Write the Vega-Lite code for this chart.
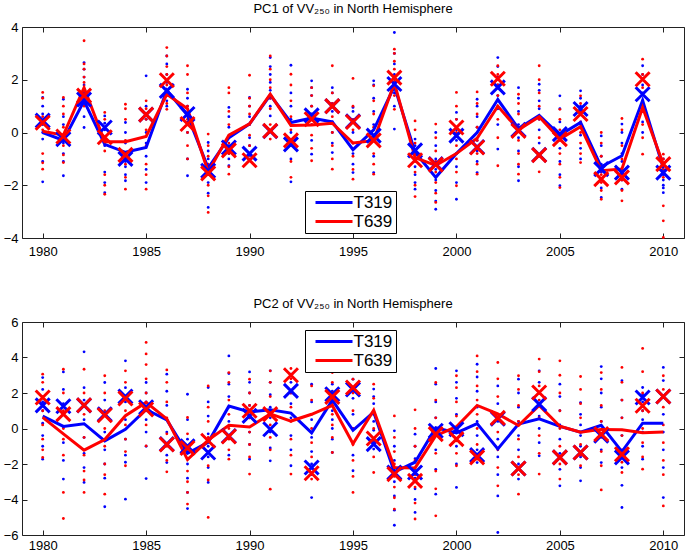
{
"$schema": "https://vega.github.io/schema/vega-lite/v6.json",
"padding": {"left": 2, "top": 2, "right": 1, "bottom": 0},
"config": {
  "font": "Liberation Sans",
  "view": {"stroke": "#222222", "strokeWidth": 1},
  "axis": {"grid": false, "domain": false, "tickColor": "#222222", "labelColor": "#000000", "labelFontSize": 13, "tickSize": -5, "labelPadding": 9},
  "axisX": {"labelPadding": 12},
  "title": {"fontSize": 13, "fontWeight": "normal", "color": "#000000", "offset": 5},
  "legend": {"orient": "none", "title": null, "symbolType": "M-9.25,0L9.25,0", "symbolSize": 16, "symbolStrokeWidth": 3, "symbolOffset": 17.5, "labelOffset": 11, "labelFontSize": 17, "labelColor": "#000000", "strokeColor": "#000000", "fillColor": "#ffffff", "padding": 3, "rowPadding": 1},
  "concat": {"spacing": 38}
},
"resolve": {"legend": {"color": "independent"}},
"datasets": {
"lines": [
{"p":1,"y":1980,"m":"T319","l":0.0,"x":0.45},{"p":1,"y":1981,"m":"T319","l":-0.3,"x":-0.25},{"p":1,"y":1982,"m":"T319","l":1.2,"x":1.25},{"p":1,"y":1983,"m":"T319","l":-0.45,"x":0.19},{"p":1,"y":1984,"m":"T319","l":-0.75,"x":-1.0},{"p":1,"y":1985,"m":"T319","l":-0.57,"x":0.68},{"p":1,"y":1986,"m":"T319","l":1.6,"x":1.58},{"p":1,"y":1987,"m":"T319","l":0.65,"x":0.7},{"p":1,"y":1988,"m":"T319","l":-1.35,"x":-1.45},{"p":1,"y":1989,"m":"T319","l":-0.2,"x":-0.57},{"p":1,"y":1990,"m":"T319","l":0.33,"x":-0.8},{"p":1,"y":1991,"m":"T319","l":1.42,"x":0.05},{"p":1,"y":1992,"m":"T319","l":0.38,"x":-0.45},{"p":1,"y":1993,"m":"T319","l":0.55,"x":0.65},{"p":1,"y":1994,"m":"T319","l":0.4,"x":1.0},{"p":1,"y":1995,"m":"T319","l":-0.65,"x":0.42},{"p":1,"y":1996,"m":"T319","l":0.1,"x":-0.12},{"p":1,"y":1997,"m":"T319","l":1.75,"x":1.84},{"p":1,"y":1998,"m":"T319","l":-0.75,"x":-0.68},{"p":1,"y":1999,"m":"T319","l":-1.7,"x":-1.2},{"p":1,"y":2000,"m":"T319","l":-0.8,"x":-0.12},{"p":1,"y":2001,"m":"T319","l":0.0,"x":-0.55},{"p":1,"y":2002,"m":"T319","l":1.25,"x":1.71},{"p":1,"y":2003,"m":"T319","l":0.15,"x":0.1},{"p":1,"y":2004,"m":"T319","l":0.65,"x":-0.85},{"p":1,"y":2005,"m":"T319","l":-0.1,"x":-0.06},{"p":1,"y":2006,"m":"T319","l":0.38,"x":0.89},{"p":1,"y":2007,"m":"T319","l":-1.3,"x":-1.39},{"p":1,"y":2008,"m":"T319","l":-0.88,"x":-1.52},{"p":1,"y":2009,"m":"T319","l":1.22,"x":1.45},{"p":1,"y":2010,"m":"T319","l":-1.35,"x":-1.52},
{"p":1,"y":1980,"m":"T639","l":0.05,"x":0.37},{"p":1,"y":1981,"m":"T639","l":-0.1,"x":-0.15},{"p":1,"y":1982,"m":"T639","l":1.7,"x":1.4},{"p":1,"y":1983,"m":"T639","l":-0.35,"x":-0.18},{"p":1,"y":1984,"m":"T639","l":-0.35,"x":-0.85},{"p":1,"y":1985,"m":"T639","l":-0.15,"x":0.68},{"p":1,"y":1986,"m":"T639","l":1.45,"x":1.98},{"p":1,"y":1987,"m":"T639","l":0.9,"x":0.32},{"p":1,"y":1988,"m":"T639","l":-1.5,"x":-1.55},{"p":1,"y":1989,"m":"T639","l":-0.1,"x":-0.68},{"p":1,"y":1990,"m":"T639","l":0.33,"x":-1.05},{"p":1,"y":1991,"m":"T639","l":1.45,"x":0.06},{"p":1,"y":1992,"m":"T639","l":0.27,"x":-0.3},{"p":1,"y":1993,"m":"T639","l":0.28,"x":0.5},{"p":1,"y":1994,"m":"T639","l":0.35,"x":1.0},{"p":1,"y":1995,"m":"T639","l":-0.4,"x":0.4},{"p":1,"y":1996,"m":"T639","l":-0.31,"x":-0.3},{"p":1,"y":1997,"m":"T639","l":1.88,"x":2.08},{"p":1,"y":1998,"m":"T639","l":-0.95,"x":-1.05},{"p":1,"y":1999,"m":"T639","l":-1.25,"x":-1.22},{"p":1,"y":2000,"m":"T639","l":-0.8,"x":0.19},{"p":1,"y":2001,"m":"T639","l":-0.22,"x":-0.57},{"p":1,"y":2002,"m":"T639","l":1.0,"x":2.04},{"p":1,"y":2003,"m":"T639","l":0.1,"x":0.06},{"p":1,"y":2004,"m":"T639","l":0.6,"x":-0.86},{"p":1,"y":2005,"m":"T639","l":-0.25,"x":-0.25},{"p":1,"y":2006,"m":"T639","l":0.22,"x":0.7},{"p":1,"y":2007,"m":"T639","l":-1.45,"x":-1.77},{"p":1,"y":2008,"m":"T639","l":-1.38,"x":-1.7},{"p":1,"y":2009,"m":"T639","l":0.95,"x":2.02},{"p":1,"y":2010,"m":"T639","l":-1.2,"x":-1.2},
{"p":2,"y":1980,"m":"T319","l":0.7,"x":1.3},{"p":2,"y":1981,"m":"T319","l":0.12,"x":1.25},{"p":2,"y":1982,"m":"T319","l":0.27,"x":1.3},{"p":2,"y":1983,"m":"T319","l":-0.7,"x":0.8},{"p":2,"y":1984,"m":"T319","l":-0.05,"x":1.8},{"p":2,"y":1985,"m":"T319","l":1.07,"x":1.2},{"p":2,"y":1986,"m":"T319","l":0.48,"x":-0.88},{"p":2,"y":1987,"m":"T319","l":-1.4,"x":-1.0},{"p":2,"y":1988,"m":"T319","l":-0.78,"x":-1.35},{"p":2,"y":1989,"m":"T319","l":1.26,"x":-0.42},{"p":2,"y":1990,"m":"T319","l":0.93,"x":0.71},{"p":2,"y":1991,"m":"T319","l":1.06,"x":-0.04},{"p":2,"y":1992,"m":"T319","l":0.87,"x":2.12},{"p":2,"y":1993,"m":"T319","l":-0.25,"x":-2.2},{"p":2,"y":1994,"m":"T319","l":1.6,"x":1.93},{"p":2,"y":1995,"m":"T319","l":-0.1,"x":2.2},{"p":2,"y":1996,"m":"T319","l":0.92,"x":-0.88},{"p":2,"y":1997,"m":"T319","l":-2.45,"x":-2.48},{"p":2,"y":1998,"m":"T319","l":-1.9,"x":-2.48},{"p":2,"y":1999,"m":"T319","l":0.05,"x":-0.13},{"p":2,"y":2000,"m":"T319","l":-0.25,"x":-0.04},{"p":2,"y":2001,"m":"T319","l":0.28,"x":-1.5},{"p":2,"y":2002,"m":"T319","l":-1.15,"x":0.55},{"p":2,"y":2003,"m":"T319","l":0.25,"x":-2.25},{"p":2,"y":2004,"m":"T319","l":0.54,"x":1.37},{"p":2,"y":2005,"m":"T319","l":0.12,"x":-1.63},{"p":2,"y":2006,"m":"T319","l":-0.21,"x":-1.35},{"p":2,"y":2007,"m":"T319","l":0.18,"x":-0.41},{"p":2,"y":2008,"m":"T319","l":-1.3,"x":-1.63},{"p":2,"y":2009,"m":"T319","l":0.3,"x":1.75},{"p":2,"y":2010,"m":"T319","l":0.3,"x":1.8},
{"p":2,"y":1980,"m":"T639","l":0.63,"x":1.75},{"p":2,"y":1981,"m":"T639","l":-0.3,"x":0.81},{"p":2,"y":1982,"m":"T639","l":-1.22,"x":1.31},{"p":2,"y":1983,"m":"T639","l":-0.62,"x":0.75},{"p":2,"y":1984,"m":"T639","l":0.72,"x":1.69},{"p":2,"y":1985,"m":"T639","l":1.47,"x":1.07},{"p":2,"y":1986,"m":"T639","l":0.54,"x":-0.9},{"p":2,"y":1987,"m":"T639","l":-1.75,"x":-1.1},{"p":2,"y":1988,"m":"T639","l":-0.65,"x":-0.69},{"p":2,"y":1989,"m":"T639","l":0.18,"x":-0.45},{"p":2,"y":1990,"m":"T639","l":0.08,"x":1.0},{"p":2,"y":1991,"m":"T639","l":0.82,"x":0.81},{"p":2,"y":1992,"m":"T639","l":0.42,"x":3.0},{"p":2,"y":1993,"m":"T639","l":0.8,"x":-2.52},{"p":2,"y":1994,"m":"T639","l":1.3,"x":1.78},{"p":2,"y":1995,"m":"T639","l":-0.86,"x":2.31},{"p":2,"y":1996,"m":"T639","l":1.03,"x":-0.56},{"p":2,"y":1997,"m":"T639","l":-2.2,"x":-2.57},{"p":2,"y":1998,"m":"T639","l":-2.22,"x":-2.95},{"p":2,"y":1999,"m":"T639","l":-0.4,"x":-0.32},{"p":2,"y":2000,"m":"T639","l":0.1,"x":-0.6},{"p":2,"y":2001,"m":"T639","l":1.3,"x":-1.63},{"p":2,"y":2002,"m":"T639","l":0.82,"x":0.6},{"p":2,"y":2003,"m":"T639","l":0.17,"x":-2.25},{"p":2,"y":2004,"m":"T639","l":1.3,"x":2.03},{"p":2,"y":2005,"m":"T639","l":0.13,"x":-1.63},{"p":2,"y":2006,"m":"T639","l":-0.21,"x":-1.35},{"p":2,"y":2007,"m":"T639","l":-0.05,"x":-0.32},{"p":2,"y":2008,"m":"T639","l":-0.07,"x":-1.45},{"p":2,"y":2009,"m":"T639","l":-0.24,"x":1.28},{"p":2,"y":2010,"m":"T639","l":-0.2,"x":1.8}
],
"dots": [
{"p":1,"y":1980,"m":"T319","v":1.33},{"p":1,"y":1980,"m":"T319","v":1.0},{"p":1,"y":1980,"m":"T319","v":0.7},{"p":1,"y":1980,"m":"T319","v":0.3},{"p":1,"y":1980,"m":"T319","v":0.0},{"p":1,"y":1980,"m":"T319","v":-0.25},{"p":1,"y":1980,"m":"T319","v":-1.1},{"p":1,"y":1980,"m":"T319","v":-1.87},
{"p":1,"y":1980,"m":"T639","v":1.52},{"p":1,"y":1980,"m":"T639","v":1.3},{"p":1,"y":1980,"m":"T639","v":0.6},{"p":1,"y":1980,"m":"T639","v":0.35},{"p":1,"y":1980,"m":"T639","v":0.1},{"p":1,"y":1980,"m":"T639","v":-0.8},{"p":1,"y":1980,"m":"T639","v":-1.15},{"p":1,"y":1980,"m":"T639","v":-1.39},
{"p":1,"y":1981,"m":"T319","v":1.26},{"p":1,"y":1981,"m":"T319","v":0.6},{"p":1,"y":1981,"m":"T319","v":0.3},{"p":1,"y":1981,"m":"T319","v":-0.1},{"p":1,"y":1981,"m":"T319","v":-0.4},{"p":1,"y":1981,"m":"T319","v":-0.8},{"p":1,"y":1981,"m":"T319","v":-1.1},{"p":1,"y":1981,"m":"T319","v":-1.64},
{"p":1,"y":1981,"m":"T639","v":1.33},{"p":1,"y":1981,"m":"T639","v":1.0},{"p":1,"y":1981,"m":"T639","v":0.7},{"p":1,"y":1981,"m":"T639","v":0.2},{"p":1,"y":1981,"m":"T639","v":-0.2},{"p":1,"y":1981,"m":"T639","v":-0.5},{"p":1,"y":1981,"m":"T639","v":-0.85},{"p":1,"y":1981,"m":"T639","v":-1.14},
{"p":1,"y":1982,"m":"T319","v":2.65},{"p":1,"y":1982,"m":"T319","v":2.4},{"p":1,"y":1982,"m":"T319","v":2.1},{"p":1,"y":1982,"m":"T319","v":1.8},{"p":1,"y":1982,"m":"T319","v":1.5},{"p":1,"y":1982,"m":"T319","v":1.1},{"p":1,"y":1982,"m":"T319","v":0.6},{"p":1,"y":1982,"m":"T319","v":0.19},
{"p":1,"y":1982,"m":"T639","v":3.48},{"p":1,"y":1982,"m":"T639","v":2.6},{"p":1,"y":1982,"m":"T639","v":2.4},{"p":1,"y":1982,"m":"T639","v":2.1},{"p":1,"y":1982,"m":"T639","v":1.9},{"p":1,"y":1982,"m":"T639","v":1.6},{"p":1,"y":1982,"m":"T639","v":1.3},{"p":1,"y":1982,"m":"T639","v":1.0},
{"p":1,"y":1983,"m":"T319","v":0.63},{"p":1,"y":1983,"m":"T319","v":0.35},{"p":1,"y":1983,"m":"T319","v":0.1},{"p":1,"y":1983,"m":"T319","v":-0.2},{"p":1,"y":1983,"m":"T319","v":-0.5},{"p":1,"y":1983,"m":"T319","v":-1.5},{"p":1,"y":1983,"m":"T319","v":-1.9},{"p":1,"y":1983,"m":"T319","v":-2.28},
{"p":1,"y":1983,"m":"T639","v":0.76},{"p":1,"y":1983,"m":"T639","v":0.5},{"p":1,"y":1983,"m":"T639","v":0.2},{"p":1,"y":1983,"m":"T639","v":-0.3},{"p":1,"y":1983,"m":"T639","v":-0.7},{"p":1,"y":1983,"m":"T639","v":-1.6},{"p":1,"y":1983,"m":"T639","v":-2.0},{"p":1,"y":1983,"m":"T639","v":-2.34},
{"p":1,"y":1984,"m":"T319","v":0.38},{"p":1,"y":1984,"m":"T319","v":0.0},{"p":1,"y":1984,"m":"T319","v":-0.4},{"p":1,"y":1984,"m":"T319","v":-0.8},{"p":1,"y":1984,"m":"T319","v":-1.1},{"p":1,"y":1984,"m":"T319","v":-1.3},{"p":1,"y":1984,"m":"T319","v":-1.6},{"p":1,"y":1984,"m":"T319","v":-1.83},
{"p":1,"y":1984,"m":"T639","v":1.07},{"p":1,"y":1984,"m":"T639","v":0.9},{"p":1,"y":1984,"m":"T639","v":0.5},{"p":1,"y":1984,"m":"T639","v":-0.3},{"p":1,"y":1984,"m":"T639","v":-0.8},{"p":1,"y":1984,"m":"T639","v":-1.2},{"p":1,"y":1984,"m":"T639","v":-1.7},{"p":1,"y":1984,"m":"T639","v":-2.15},
{"p":1,"y":1985,"m":"T319","v":2.15},{"p":1,"y":1985,"m":"T319","v":1.0},{"p":1,"y":1985,"m":"T319","v":0.5},{"p":1,"y":1985,"m":"T319","v":0.0},{"p":1,"y":1985,"m":"T319","v":-0.4},{"p":1,"y":1985,"m":"T319","v":-0.9},{"p":1,"y":1985,"m":"T319","v":-1.4},{"p":1,"y":1985,"m":"T319","v":-1.9},
{"p":1,"y":1985,"m":"T639","v":1.2},{"p":1,"y":1985,"m":"T639","v":0.9},{"p":1,"y":1985,"m":"T639","v":0.5},{"p":1,"y":1985,"m":"T639","v":0.1},{"p":1,"y":1985,"m":"T639","v":-0.5},{"p":1,"y":1985,"m":"T639","v":-1.2},{"p":1,"y":1985,"m":"T639","v":-1.6},{"p":1,"y":1985,"m":"T639","v":-2.15},
{"p":1,"y":1986,"m":"T319","v":2.9},{"p":1,"y":1986,"m":"T319","v":2.6},{"p":1,"y":1986,"m":"T319","v":2.2},{"p":1,"y":1986,"m":"T319","v":1.9},{"p":1,"y":1986,"m":"T319","v":1.6},{"p":1,"y":1986,"m":"T319","v":1.4},{"p":1,"y":1986,"m":"T319","v":1.2},{"p":1,"y":1986,"m":"T319","v":1.0},
{"p":1,"y":1986,"m":"T639","v":3.22},{"p":1,"y":1986,"m":"T639","v":2.9},{"p":1,"y":1986,"m":"T639","v":2.5},{"p":1,"y":1986,"m":"T639","v":2.2},{"p":1,"y":1986,"m":"T639","v":1.8},{"p":1,"y":1986,"m":"T639","v":1.5},{"p":1,"y":1986,"m":"T639","v":1.1},{"p":1,"y":1986,"m":"T639","v":0.88},
{"p":1,"y":1987,"m":"T319","v":1.64},{"p":1,"y":1987,"m":"T319","v":1.3},{"p":1,"y":1987,"m":"T319","v":1.0},{"p":1,"y":1987,"m":"T319","v":0.7},{"p":1,"y":1987,"m":"T319","v":0.4},{"p":1,"y":1987,"m":"T319","v":0.0},{"p":1,"y":1987,"m":"T319","v":-1.0},{"p":1,"y":1987,"m":"T319","v":-1.64},
{"p":1,"y":1987,"m":"T639","v":2.53},{"p":1,"y":1987,"m":"T639","v":2.2},{"p":1,"y":1987,"m":"T639","v":1.5},{"p":1,"y":1987,"m":"T639","v":1.0},{"p":1,"y":1987,"m":"T639","v":0.5},{"p":1,"y":1987,"m":"T639","v":0.0},{"p":1,"y":1987,"m":"T639","v":-0.5},{"p":1,"y":1987,"m":"T639","v":-1.0},
{"p":1,"y":1988,"m":"T319","v":-0.38},{"p":1,"y":1988,"m":"T319","v":-0.7},{"p":1,"y":1988,"m":"T319","v":-1.0},{"p":1,"y":1988,"m":"T319","v":-1.3},{"p":1,"y":1988,"m":"T319","v":-1.6},{"p":1,"y":1988,"m":"T319","v":-1.9},{"p":1,"y":1988,"m":"T319","v":-2.3},{"p":1,"y":1988,"m":"T319","v":-2.84},
{"p":1,"y":1988,"m":"T639","v":-0.06},{"p":1,"y":1988,"m":"T639","v":-0.5},{"p":1,"y":1988,"m":"T639","v":-0.9},{"p":1,"y":1988,"m":"T639","v":-1.2},{"p":1,"y":1988,"m":"T639","v":-1.6},{"p":1,"y":1988,"m":"T639","v":-2.0},{"p":1,"y":1988,"m":"T639","v":-2.4},{"p":1,"y":1988,"m":"T639","v":-3.03},
{"p":1,"y":1989,"m":"T319","v":0.95},{"p":1,"y":1989,"m":"T319","v":0.6},{"p":1,"y":1989,"m":"T319","v":0.2},{"p":1,"y":1989,"m":"T319","v":-0.2},{"p":1,"y":1989,"m":"T319","v":-0.5},{"p":1,"y":1989,"m":"T319","v":-0.8},{"p":1,"y":1989,"m":"T319","v":-1.0},{"p":1,"y":1989,"m":"T319","v":-1.26},
{"p":1,"y":1989,"m":"T639","v":1.7},{"p":1,"y":1989,"m":"T639","v":1.5},{"p":1,"y":1989,"m":"T639","v":0.8},{"p":1,"y":1989,"m":"T639","v":0.3},{"p":1,"y":1989,"m":"T639","v":-0.4},{"p":1,"y":1989,"m":"T639","v":-0.8},{"p":1,"y":1989,"m":"T639","v":-1.3},{"p":1,"y":1989,"m":"T639","v":-1.58},
{"p":1,"y":1990,"m":"T319","v":1.33},{"p":1,"y":1990,"m":"T319","v":1.0},{"p":1,"y":1990,"m":"T319","v":0.6},{"p":1,"y":1990,"m":"T319","v":0.3},{"p":1,"y":1990,"m":"T319","v":-0.2},{"p":1,"y":1990,"m":"T319","v":-0.5},{"p":1,"y":1990,"m":"T319","v":-0.8},{"p":1,"y":1990,"m":"T319","v":-1.0},
{"p":1,"y":1990,"m":"T639","v":2.17},{"p":1,"y":1990,"m":"T639","v":1.3},{"p":1,"y":1990,"m":"T639","v":1.0},{"p":1,"y":1990,"m":"T639","v":0.7},{"p":1,"y":1990,"m":"T639","v":0.3},{"p":1,"y":1990,"m":"T639","v":-0.1},{"p":1,"y":1990,"m":"T639","v":-0.5},{"p":1,"y":1990,"m":"T639","v":-0.88},
{"p":1,"y":1991,"m":"T319","v":2.84},{"p":1,"y":1991,"m":"T319","v":2.5},{"p":1,"y":1991,"m":"T319","v":2.2},{"p":1,"y":1991,"m":"T319","v":1.9},{"p":1,"y":1991,"m":"T319","v":1.6},{"p":1,"y":1991,"m":"T319","v":1.3},{"p":1,"y":1991,"m":"T319","v":1.0},{"p":1,"y":1991,"m":"T319","v":0.63},
{"p":1,"y":1991,"m":"T639","v":2.9},{"p":1,"y":1991,"m":"T639","v":2.4},{"p":1,"y":1991,"m":"T639","v":2.0},{"p":1,"y":1991,"m":"T639","v":1.7},{"p":1,"y":1991,"m":"T639","v":1.3},{"p":1,"y":1991,"m":"T639","v":0.9},{"p":1,"y":1991,"m":"T639","v":0.3},{"p":1,"y":1991,"m":"T639","v":-0.25},
{"p":1,"y":1992,"m":"T319","v":2.55},{"p":1,"y":1992,"m":"T319","v":1.5},{"p":1,"y":1992,"m":"T319","v":1.0},{"p":1,"y":1992,"m":"T319","v":0.5},{"p":1,"y":1992,"m":"T319","v":0.0},{"p":1,"y":1992,"m":"T319","v":-0.5},{"p":1,"y":1992,"m":"T319","v":-1.0},{"p":1,"y":1992,"m":"T319","v":-1.87},
{"p":1,"y":1992,"m":"T639","v":2.21},{"p":1,"y":1992,"m":"T639","v":1.8},{"p":1,"y":1992,"m":"T639","v":1.2},{"p":1,"y":1992,"m":"T639","v":0.6},{"p":1,"y":1992,"m":"T639","v":0.1},{"p":1,"y":1992,"m":"T639","v":-0.4},{"p":1,"y":1992,"m":"T639","v":-1.1},{"p":1,"y":1992,"m":"T639","v":-1.7},
{"p":1,"y":1993,"m":"T319","v":1.96},{"p":1,"y":1993,"m":"T319","v":1.7},{"p":1,"y":1993,"m":"T319","v":1.4},{"p":1,"y":1993,"m":"T319","v":1.0},{"p":1,"y":1993,"m":"T319","v":0.7},{"p":1,"y":1993,"m":"T319","v":0.3},{"p":1,"y":1993,"m":"T319","v":-0.3},{"p":1,"y":1993,"m":"T319","v":-0.82},
{"p":1,"y":1993,"m":"T639","v":1.7},{"p":1,"y":1993,"m":"T639","v":1.4},{"p":1,"y":1993,"m":"T639","v":1.0},{"p":1,"y":1993,"m":"T639","v":0.6},{"p":1,"y":1993,"m":"T639","v":0.3},{"p":1,"y":1993,"m":"T639","v":-0.1},{"p":1,"y":1993,"m":"T639","v":-0.6},{"p":1,"y":1993,"m":"T639","v":-1.07},
{"p":1,"y":1994,"m":"T319","v":1.7},{"p":1,"y":1994,"m":"T319","v":1.5},{"p":1,"y":1994,"m":"T319","v":1.1},{"p":1,"y":1994,"m":"T319","v":0.8},{"p":1,"y":1994,"m":"T319","v":0.4},{"p":1,"y":1994,"m":"T319","v":0.0},{"p":1,"y":1994,"m":"T319","v":-0.4},{"p":1,"y":1994,"m":"T319","v":-0.76},
{"p":1,"y":1994,"m":"T639","v":2.53},{"p":1,"y":1994,"m":"T639","v":1.5},{"p":1,"y":1994,"m":"T639","v":1.1},{"p":1,"y":1994,"m":"T639","v":0.6},{"p":1,"y":1994,"m":"T639","v":0.0},{"p":1,"y":1994,"m":"T639","v":-0.5},{"p":1,"y":1994,"m":"T639","v":-1.0},{"p":1,"y":1994,"m":"T639","v":-1.39},
{"p":1,"y":1995,"m":"T319","v":0.95},{"p":1,"y":1995,"m":"T319","v":0.8},{"p":1,"y":1995,"m":"T319","v":0.4},{"p":1,"y":1995,"m":"T319","v":0.0},{"p":1,"y":1995,"m":"T319","v":-0.4},{"p":1,"y":1995,"m":"T319","v":-0.8},{"p":1,"y":1995,"m":"T319","v":-1.2},{"p":1,"y":1995,"m":"T319","v":-1.52},
{"p":1,"y":1995,"m":"T639","v":2.05},{"p":1,"y":1995,"m":"T639","v":1.0},{"p":1,"y":1995,"m":"T639","v":0.5},{"p":1,"y":1995,"m":"T639","v":0.1},{"p":1,"y":1995,"m":"T639","v":-0.4},{"p":1,"y":1995,"m":"T639","v":-0.9},{"p":1,"y":1995,"m":"T639","v":-1.4},{"p":1,"y":1995,"m":"T639","v":-1.77},
{"p":1,"y":1996,"m":"T319","v":1.96},{"p":1,"y":1996,"m":"T319","v":1.8},{"p":1,"y":1996,"m":"T319","v":1.3},{"p":1,"y":1996,"m":"T319","v":0.8},{"p":1,"y":1996,"m":"T319","v":0.3},{"p":1,"y":1996,"m":"T319","v":-0.2},{"p":1,"y":1996,"m":"T319","v":-0.9},{"p":1,"y":1996,"m":"T319","v":-1.52},
{"p":1,"y":1996,"m":"T639","v":1.77},{"p":1,"y":1996,"m":"T639","v":1.2},{"p":1,"y":1996,"m":"T639","v":0.7},{"p":1,"y":1996,"m":"T639","v":0.2},{"p":1,"y":1996,"m":"T639","v":-0.3},{"p":1,"y":1996,"m":"T639","v":-0.8},{"p":1,"y":1996,"m":"T639","v":-1.2},{"p":1,"y":1996,"m":"T639","v":-1.58},
{"p":1,"y":1997,"m":"T319","v":3.79},{"p":1,"y":1997,"m":"T319","v":3.0},{"p":1,"y":1997,"m":"T319","v":2.6},{"p":1,"y":1997,"m":"T319","v":2.2},{"p":1,"y":1997,"m":"T319","v":1.9},{"p":1,"y":1997,"m":"T319","v":1.5},{"p":1,"y":1997,"m":"T319","v":1.0},{"p":1,"y":1997,"m":"T319","v":0.13},
{"p":1,"y":1997,"m":"T639","v":3.16},{"p":1,"y":1997,"m":"T639","v":3.0},{"p":1,"y":1997,"m":"T639","v":2.7},{"p":1,"y":1997,"m":"T639","v":2.4},{"p":1,"y":1997,"m":"T639","v":2.1},{"p":1,"y":1997,"m":"T639","v":1.8},{"p":1,"y":1997,"m":"T639","v":1.4},{"p":1,"y":1997,"m":"T639","v":0.88},
{"p":1,"y":1998,"m":"T319","v":-0.25},{"p":1,"y":1998,"m":"T319","v":-0.5},{"p":1,"y":1998,"m":"T319","v":-0.8},{"p":1,"y":1998,"m":"T319","v":-1.0},{"p":1,"y":1998,"m":"T319","v":-1.3},{"p":1,"y":1998,"m":"T319","v":-1.6},{"p":1,"y":1998,"m":"T319","v":-1.9},{"p":1,"y":1998,"m":"T319","v":-2.15},
{"p":1,"y":1998,"m":"T639","v":0.44},{"p":1,"y":1998,"m":"T639","v":0.1},{"p":1,"y":1998,"m":"T639","v":-0.4},{"p":1,"y":1998,"m":"T639","v":-0.8},{"p":1,"y":1998,"m":"T639","v":-1.1},{"p":1,"y":1998,"m":"T639","v":-1.5},{"p":1,"y":1998,"m":"T639","v":-2.0},{"p":1,"y":1998,"m":"T639","v":-2.43},
{"p":1,"y":1999,"m":"T319","v":0.0},{"p":1,"y":1999,"m":"T319","v":-0.5},{"p":1,"y":1999,"m":"T319","v":-1.0},{"p":1,"y":1999,"m":"T319","v":-1.4},{"p":1,"y":1999,"m":"T319","v":-1.8},{"p":1,"y":1999,"m":"T319","v":-2.2},{"p":1,"y":1999,"m":"T319","v":-2.6},{"p":1,"y":1999,"m":"T319","v":-2.91},
{"p":1,"y":1999,"m":"T639","v":0.32},{"p":1,"y":1999,"m":"T639","v":-0.2},{"p":1,"y":1999,"m":"T639","v":-0.7},{"p":1,"y":1999,"m":"T639","v":-1.1},{"p":1,"y":1999,"m":"T639","v":-1.5},{"p":1,"y":1999,"m":"T639","v":-1.9},{"p":1,"y":1999,"m":"T639","v":-2.3},{"p":1,"y":1999,"m":"T639","v":-2.65},
{"p":1,"y":2000,"m":"T319","v":0.76},{"p":1,"y":2000,"m":"T319","v":0.5},{"p":1,"y":2000,"m":"T319","v":0.1},{"p":1,"y":2000,"m":"T319","v":-0.3},{"p":1,"y":2000,"m":"T319","v":-0.8},{"p":1,"y":2000,"m":"T319","v":-1.3},{"p":1,"y":2000,"m":"T319","v":-1.9},{"p":1,"y":2000,"m":"T319","v":-2.53},
{"p":1,"y":2000,"m":"T639","v":1.52},{"p":1,"y":2000,"m":"T639","v":1.0},{"p":1,"y":2000,"m":"T639","v":0.5},{"p":1,"y":2000,"m":"T639","v":0.0},{"p":1,"y":2000,"m":"T639","v":-0.5},{"p":1,"y":2000,"m":"T639","v":-1.0},{"p":1,"y":2000,"m":"T639","v":-1.5},{"p":1,"y":2000,"m":"T639","v":-2.02},
{"p":1,"y":2001,"m":"T319","v":1.26},{"p":1,"y":2001,"m":"T319","v":1.0},{"p":1,"y":2001,"m":"T319","v":0.6},{"p":1,"y":2001,"m":"T319","v":0.2},{"p":1,"y":2001,"m":"T319","v":-0.3},{"p":1,"y":2001,"m":"T319","v":-0.7},{"p":1,"y":2001,"m":"T319","v":-1.1},{"p":1,"y":2001,"m":"T319","v":-1.52},
{"p":1,"y":2001,"m":"T639","v":1.54},{"p":1,"y":2001,"m":"T639","v":1.1},{"p":1,"y":2001,"m":"T639","v":0.7},{"p":1,"y":2001,"m":"T639","v":0.2},{"p":1,"y":2001,"m":"T639","v":-0.3},{"p":1,"y":2001,"m":"T639","v":-0.8},{"p":1,"y":2001,"m":"T639","v":-1.2},{"p":1,"y":2001,"m":"T639","v":-1.58},
{"p":1,"y":2002,"m":"T319","v":2.84},{"p":1,"y":2002,"m":"T319","v":2.5},{"p":1,"y":2002,"m":"T319","v":2.1},{"p":1,"y":2002,"m":"T319","v":1.8},{"p":1,"y":2002,"m":"T319","v":1.4},{"p":1,"y":2002,"m":"T319","v":0.9},{"p":1,"y":2002,"m":"T319","v":0.3},{"p":1,"y":2002,"m":"T319","v":-0.63},
{"p":1,"y":2002,"m":"T639","v":2.53},{"p":1,"y":2002,"m":"T639","v":2.2},{"p":1,"y":2002,"m":"T639","v":1.8},{"p":1,"y":2002,"m":"T639","v":1.4},{"p":1,"y":2002,"m":"T639","v":1.0},{"p":1,"y":2002,"m":"T639","v":0.5},{"p":1,"y":2002,"m":"T639","v":-0.2},{"p":1,"y":2002,"m":"T639","v":-1.26},
{"p":1,"y":2003,"m":"T319","v":1.7},{"p":1,"y":2003,"m":"T319","v":1.3},{"p":1,"y":2003,"m":"T319","v":0.8},{"p":1,"y":2003,"m":"T319","v":0.3},{"p":1,"y":2003,"m":"T319","v":-0.2},{"p":1,"y":2003,"m":"T319","v":-0.7},{"p":1,"y":2003,"m":"T319","v":-1.3},{"p":1,"y":2003,"m":"T319","v":-1.83},
{"p":1,"y":2003,"m":"T639","v":1.45},{"p":1,"y":2003,"m":"T639","v":1.1},{"p":1,"y":2003,"m":"T639","v":0.7},{"p":1,"y":2003,"m":"T639","v":0.2},{"p":1,"y":2003,"m":"T639","v":-0.3},{"p":1,"y":2003,"m":"T639","v":-0.8},{"p":1,"y":2003,"m":"T639","v":-1.2},{"p":1,"y":2003,"m":"T639","v":-1.58},
{"p":1,"y":2004,"m":"T319","v":1.83},{"p":1,"y":2004,"m":"T319","v":1.6},{"p":1,"y":2004,"m":"T319","v":1.2},{"p":1,"y":2004,"m":"T319","v":0.9},{"p":1,"y":2004,"m":"T319","v":0.5},{"p":1,"y":2004,"m":"T319","v":0.1},{"p":1,"y":2004,"m":"T319","v":-0.4},{"p":1,"y":2004,"m":"T319","v":-0.88},
{"p":1,"y":2004,"m":"T639","v":2.53},{"p":1,"y":2004,"m":"T639","v":2.0},{"p":1,"y":2004,"m":"T639","v":1.5},{"p":1,"y":2004,"m":"T639","v":1.0},{"p":1,"y":2004,"m":"T639","v":0.5},{"p":1,"y":2004,"m":"T639","v":-0.2},{"p":1,"y":2004,"m":"T639","v":-0.9},{"p":1,"y":2004,"m":"T639","v":-1.49},
{"p":1,"y":2005,"m":"T319","v":1.39},{"p":1,"y":2005,"m":"T319","v":0.9},{"p":1,"y":2005,"m":"T319","v":0.4},{"p":1,"y":2005,"m":"T319","v":-0.1},{"p":1,"y":2005,"m":"T319","v":-0.6},{"p":1,"y":2005,"m":"T319","v":-1.1},{"p":1,"y":2005,"m":"T319","v":-1.6},{"p":1,"y":2005,"m":"T319","v":-2.02},
{"p":1,"y":2005,"m":"T639","v":0.88},{"p":1,"y":2005,"m":"T639","v":0.5},{"p":1,"y":2005,"m":"T639","v":0.1},{"p":1,"y":2005,"m":"T639","v":-0.3},{"p":1,"y":2005,"m":"T639","v":-0.8},{"p":1,"y":2005,"m":"T639","v":-1.2},{"p":1,"y":2005,"m":"T639","v":-1.7},{"p":1,"y":2005,"m":"T639","v":-2.09},
{"p":1,"y":2006,"m":"T319","v":1.58},{"p":1,"y":2006,"m":"T319","v":1.3},{"p":1,"y":2006,"m":"T319","v":1.0},{"p":1,"y":2006,"m":"T319","v":0.7},{"p":1,"y":2006,"m":"T319","v":0.3},{"p":1,"y":2006,"m":"T319","v":-0.1},{"p":1,"y":2006,"m":"T319","v":-0.6},{"p":1,"y":2006,"m":"T319","v":-1.0},
{"p":1,"y":2006,"m":"T639","v":1.39},{"p":1,"y":2006,"m":"T639","v":1.1},{"p":1,"y":2006,"m":"T639","v":0.8},{"p":1,"y":2006,"m":"T639","v":0.4},{"p":1,"y":2006,"m":"T639","v":0.0},{"p":1,"y":2006,"m":"T639","v":-0.4},{"p":1,"y":2006,"m":"T639","v":-0.8},{"p":1,"y":2006,"m":"T639","v":-1.14},
{"p":1,"y":2007,"m":"T319","v":-0.13},{"p":1,"y":2007,"m":"T319","v":-0.5},{"p":1,"y":2007,"m":"T319","v":-0.9},{"p":1,"y":2007,"m":"T319","v":-1.2},{"p":1,"y":2007,"m":"T319","v":-1.5},{"p":1,"y":2007,"m":"T319","v":-1.8},{"p":1,"y":2007,"m":"T319","v":-2.1},{"p":1,"y":2007,"m":"T319","v":-2.46},
{"p":1,"y":2007,"m":"T639","v":0.0},{"p":1,"y":2007,"m":"T639","v":-0.4},{"p":1,"y":2007,"m":"T639","v":-0.9},{"p":1,"y":2007,"m":"T639","v":-1.3},{"p":1,"y":2007,"m":"T639","v":-1.6},{"p":1,"y":2007,"m":"T639","v":-1.9},{"p":1,"y":2007,"m":"T639","v":-2.2},{"p":1,"y":2007,"m":"T639","v":-2.53},
{"p":1,"y":2008,"m":"T319","v":0.32},{"p":1,"y":2008,"m":"T319","v":0.0},{"p":1,"y":2008,"m":"T319","v":-0.4},{"p":1,"y":2008,"m":"T319","v":-0.8},{"p":1,"y":2008,"m":"T319","v":-1.1},{"p":1,"y":2008,"m":"T319","v":-1.5},{"p":1,"y":2008,"m":"T319","v":-1.8},{"p":1,"y":2008,"m":"T319","v":-2.15},
{"p":1,"y":2008,"m":"T639","v":0.53},{"p":1,"y":2008,"m":"T639","v":0.1},{"p":1,"y":2008,"m":"T639","v":-0.5},{"p":1,"y":2008,"m":"T639","v":-1.0},{"p":1,"y":2008,"m":"T639","v":-1.4},{"p":1,"y":2008,"m":"T639","v":-1.8},{"p":1,"y":2008,"m":"T639","v":-2.2},{"p":1,"y":2008,"m":"T639","v":-2.59},
{"p":1,"y":2009,"m":"T319","v":2.53},{"p":1,"y":2009,"m":"T319","v":2.2},{"p":1,"y":2009,"m":"T319","v":1.8},{"p":1,"y":2009,"m":"T319","v":1.5},{"p":1,"y":2009,"m":"T319","v":1.2},{"p":1,"y":2009,"m":"T319","v":0.8},{"p":1,"y":2009,"m":"T319","v":0.4},{"p":1,"y":2009,"m":"T319","v":0.0},
{"p":1,"y":2009,"m":"T639","v":2.78},{"p":1,"y":2009,"m":"T639","v":2.2},{"p":1,"y":2009,"m":"T639","v":1.7},{"p":1,"y":2009,"m":"T639","v":1.2},{"p":1,"y":2009,"m":"T639","v":0.8},{"p":1,"y":2009,"m":"T639","v":0.3},{"p":1,"y":2009,"m":"T639","v":-0.2},{"p":1,"y":2009,"m":"T639","v":-0.82},
{"p":1,"y":2010,"m":"T319","v":-1.0},{"p":1,"y":2010,"m":"T319","v":-1.2},{"p":1,"y":2010,"m":"T319","v":-1.4},{"p":1,"y":2010,"m":"T319","v":-1.6},{"p":1,"y":2010,"m":"T319","v":-1.8},{"p":1,"y":2010,"m":"T319","v":-2.0},{"p":1,"y":2010,"m":"T319","v":-2.1},{"p":1,"y":2010,"m":"T319","v":-2.28},
{"p":1,"y":2010,"m":"T639","v":-0.82},{"p":1,"y":2010,"m":"T639","v":-1.0},{"p":1,"y":2010,"m":"T639","v":-1.2},{"p":1,"y":2010,"m":"T639","v":-1.4},{"p":1,"y":2010,"m":"T639","v":-1.7},{"p":1,"y":2010,"m":"T639","v":-2.78},{"p":1,"y":2010,"m":"T639","v":-3.35},{"p":1,"y":2010,"m":"T639","v":-3.98},
{"p":2,"y":1980,"m":"T319","v":2.87},{"p":2,"y":1980,"m":"T319","v":2.2},{"p":2,"y":1980,"m":"T319","v":1.5},{"p":2,"y":1980,"m":"T319","v":1.0},{"p":2,"y":1980,"m":"T319","v":0.3},{"p":2,"y":1980,"m":"T319","v":-0.4},{"p":2,"y":1980,"m":"T319","v":-1.0},{"p":2,"y":1980,"m":"T319","v":-1.73},
{"p":2,"y":1980,"m":"T639","v":3.06},{"p":2,"y":1980,"m":"T639","v":2.6},{"p":2,"y":1980,"m":"T639","v":1.8},{"p":2,"y":1980,"m":"T639","v":1.0},{"p":2,"y":1980,"m":"T639","v":0.2},{"p":2,"y":1980,"m":"T639","v":-0.6},{"p":2,"y":1980,"m":"T639","v":-1.2},{"p":2,"y":1980,"m":"T639","v":-1.63},
{"p":2,"y":1981,"m":"T319","v":3.19},{"p":2,"y":1981,"m":"T319","v":2.2},{"p":2,"y":1981,"m":"T319","v":1.4},{"p":2,"y":1981,"m":"T319","v":0.8},{"p":2,"y":1981,"m":"T319","v":0.1},{"p":2,"y":1981,"m":"T319","v":-0.8},{"p":2,"y":1981,"m":"T319","v":-1.8},{"p":2,"y":1981,"m":"T319","v":-2.85},
{"p":2,"y":1981,"m":"T639","v":3.34},{"p":2,"y":1981,"m":"T639","v":2.0},{"p":2,"y":1981,"m":"T639","v":1.0},{"p":2,"y":1981,"m":"T639","v":0.0},{"p":2,"y":1981,"m":"T639","v":-0.6},{"p":2,"y":1981,"m":"T639","v":-1.5},{"p":2,"y":1981,"m":"T639","v":-3.6},{"p":2,"y":1981,"m":"T639","v":-5.07},
{"p":2,"y":1982,"m":"T319","v":4.32},{"p":2,"y":1982,"m":"T319","v":2.3},{"p":2,"y":1982,"m":"T319","v":1.6},{"p":2,"y":1982,"m":"T319","v":0.5},{"p":2,"y":1982,"m":"T319","v":-0.5},{"p":2,"y":1982,"m":"T319","v":-1.4},{"p":2,"y":1982,"m":"T319","v":-2.2},{"p":2,"y":1982,"m":"T319","v":-3.04},
{"p":2,"y":1982,"m":"T639","v":3.34},{"p":2,"y":1982,"m":"T639","v":2.0},{"p":2,"y":1982,"m":"T639","v":0.8},{"p":2,"y":1982,"m":"T639","v":-0.5},{"p":2,"y":1982,"m":"T639","v":-1.5},{"p":2,"y":1982,"m":"T639","v":-2.4},{"p":2,"y":1982,"m":"T639","v":-2.9},{"p":2,"y":1982,"m":"T639","v":-3.6},
{"p":2,"y":1983,"m":"T319","v":2.59},{"p":2,"y":1983,"m":"T319","v":1.6},{"p":2,"y":1983,"m":"T319","v":0.8},{"p":2,"y":1983,"m":"T319","v":-0.2},{"p":2,"y":1983,"m":"T319","v":-1.2},{"p":2,"y":1983,"m":"T319","v":-2.0},{"p":2,"y":1983,"m":"T319","v":-2.8},{"p":2,"y":1983,"m":"T319","v":-4.41},
{"p":2,"y":1983,"m":"T639","v":2.97},{"p":2,"y":1983,"m":"T639","v":2.0},{"p":2,"y":1983,"m":"T639","v":1.0},{"p":2,"y":1983,"m":"T639","v":0.0},{"p":2,"y":1983,"m":"T639","v":-1.0},{"p":2,"y":1983,"m":"T639","v":-2.0},{"p":2,"y":1983,"m":"T639","v":-2.6},{"p":2,"y":1983,"m":"T639","v":-3.7},
{"p":2,"y":1984,"m":"T319","v":3.81},{"p":2,"y":1984,"m":"T319","v":2.3},{"p":2,"y":1984,"m":"T319","v":1.5},{"p":2,"y":1984,"m":"T319","v":0.5},{"p":2,"y":1984,"m":"T319","v":-0.6},{"p":2,"y":1984,"m":"T319","v":-1.5},{"p":2,"y":1984,"m":"T319","v":-1.9},{"p":2,"y":1984,"m":"T319","v":-3.98},
{"p":2,"y":1984,"m":"T639","v":3.25},{"p":2,"y":1984,"m":"T639","v":2.6},{"p":2,"y":1984,"m":"T639","v":1.7},{"p":2,"y":1984,"m":"T639","v":1.0},{"p":2,"y":1984,"m":"T639","v":0.2},{"p":2,"y":1984,"m":"T639","v":-0.6},{"p":2,"y":1984,"m":"T639","v":-1.3},{"p":2,"y":1984,"m":"T639","v":-2.1},
{"p":2,"y":1985,"m":"T319","v":2.59},{"p":2,"y":1985,"m":"T319","v":2.0},{"p":2,"y":1985,"m":"T319","v":1.5},{"p":2,"y":1985,"m":"T319","v":1.0},{"p":2,"y":1985,"m":"T319","v":0.5},{"p":2,"y":1985,"m":"T319","v":-0.2},{"p":2,"y":1985,"m":"T319","v":-1.0},{"p":2,"y":1985,"m":"T319","v":-2.82},
{"p":2,"y":1985,"m":"T639","v":4.85},{"p":2,"y":1985,"m":"T639","v":4.2},{"p":2,"y":1985,"m":"T639","v":3.6},{"p":2,"y":1985,"m":"T639","v":2.8},{"p":2,"y":1985,"m":"T639","v":2.0},{"p":2,"y":1985,"m":"T639","v":1.2},{"p":2,"y":1985,"m":"T639","v":0.2},{"p":2,"y":1985,"m":"T639","v":-0.98},
{"p":2,"y":1986,"m":"T319","v":3.06},{"p":2,"y":1986,"m":"T319","v":2.1},{"p":2,"y":1986,"m":"T319","v":1.3},{"p":2,"y":1986,"m":"T319","v":0.5},{"p":2,"y":1986,"m":"T319","v":-0.2},{"p":2,"y":1986,"m":"T319","v":-0.9},{"p":2,"y":1986,"m":"T319","v":-1.5},{"p":2,"y":1986,"m":"T319","v":-1.92},
{"p":2,"y":1986,"m":"T639","v":3.3},{"p":2,"y":1986,"m":"T639","v":2.6},{"p":2,"y":1986,"m":"T639","v":1.5},{"p":2,"y":1986,"m":"T639","v":0.6},{"p":2,"y":1986,"m":"T639","v":-0.3},{"p":2,"y":1986,"m":"T639","v":-1.0},{"p":2,"y":1986,"m":"T639","v":-1.8},{"p":2,"y":1986,"m":"T639","v":-2.44},
{"p":2,"y":1987,"m":"T319","v":1.93},{"p":2,"y":1987,"m":"T319","v":0.5},{"p":2,"y":1987,"m":"T319","v":-0.6},{"p":2,"y":1987,"m":"T319","v":-1.3},{"p":2,"y":1987,"m":"T319","v":-2.0},{"p":2,"y":1987,"m":"T319","v":-2.8},{"p":2,"y":1987,"m":"T319","v":-3.6},{"p":2,"y":1987,"m":"T319","v":-4.51},
{"p":2,"y":1987,"m":"T639","v":0.62},{"p":2,"y":1987,"m":"T639","v":-0.3},{"p":2,"y":1987,"m":"T639","v":-1.0},{"p":2,"y":1987,"m":"T639","v":-1.7},{"p":2,"y":1987,"m":"T639","v":-2.4},{"p":2,"y":1987,"m":"T639","v":-3.0},{"p":2,"y":1987,"m":"T639","v":-3.6},{"p":2,"y":1987,"m":"T639","v":-4.26},
{"p":2,"y":1988,"m":"T319","v":2.31},{"p":2,"y":1988,"m":"T319","v":1.5},{"p":2,"y":1988,"m":"T319","v":0.7},{"p":2,"y":1988,"m":"T319","v":-0.3},{"p":2,"y":1988,"m":"T319","v":-1.0},{"p":2,"y":1988,"m":"T319","v":-1.6},{"p":2,"y":1988,"m":"T319","v":-2.2},{"p":2,"y":1988,"m":"T319","v":-3.04},
{"p":2,"y":1988,"m":"T639","v":2.4},{"p":2,"y":1988,"m":"T639","v":1.2},{"p":2,"y":1988,"m":"T639","v":0.4},{"p":2,"y":1988,"m":"T639","v":-0.5},{"p":2,"y":1988,"m":"T639","v":-1.3},{"p":2,"y":1988,"m":"T639","v":-2.1},{"p":2,"y":1988,"m":"T639","v":-2.9},{"p":2,"y":1988,"m":"T639","v":-5.01},
{"p":2,"y":1989,"m":"T319","v":4.09},{"p":2,"y":1989,"m":"T319","v":3.1},{"p":2,"y":1989,"m":"T319","v":2.5},{"p":2,"y":1989,"m":"T319","v":1.8},{"p":2,"y":1989,"m":"T319","v":1.2},{"p":2,"y":1989,"m":"T319","v":0.4},{"p":2,"y":1989,"m":"T319","v":-0.5},{"p":2,"y":1989,"m":"T319","v":-1.5},
{"p":2,"y":1989,"m":"T639","v":3.15},{"p":2,"y":1989,"m":"T639","v":2.6},{"p":2,"y":1989,"m":"T639","v":1.6},{"p":2,"y":1989,"m":"T639","v":0.8},{"p":2,"y":1989,"m":"T639","v":0.0},{"p":2,"y":1989,"m":"T639","v":-0.6},{"p":2,"y":1989,"m":"T639","v":-1.2},{"p":2,"y":1989,"m":"T639","v":-1.73},
{"p":2,"y":1990,"m":"T319","v":3.19},{"p":2,"y":1990,"m":"T319","v":2.6},{"p":2,"y":1990,"m":"T319","v":2.0},{"p":2,"y":1990,"m":"T319","v":1.3},{"p":2,"y":1990,"m":"T319","v":0.6},{"p":2,"y":1990,"m":"T319","v":-0.2},{"p":2,"y":1990,"m":"T319","v":-0.9},{"p":2,"y":1990,"m":"T319","v":-1.73},
{"p":2,"y":1990,"m":"T639","v":2.78},{"p":2,"y":1990,"m":"T639","v":2.0},{"p":2,"y":1990,"m":"T639","v":1.3},{"p":2,"y":1990,"m":"T639","v":0.6},{"p":2,"y":1990,"m":"T639","v":-0.2},{"p":2,"y":1990,"m":"T639","v":-0.9},{"p":2,"y":1990,"m":"T639","v":-1.6},{"p":2,"y":1990,"m":"T639","v":-2.57},
{"p":2,"y":1991,"m":"T319","v":3.25},{"p":2,"y":1991,"m":"T319","v":2.6},{"p":2,"y":1991,"m":"T319","v":1.9},{"p":2,"y":1991,"m":"T319","v":1.2},{"p":2,"y":1991,"m":"T319","v":0.6},{"p":2,"y":1991,"m":"T319","v":-0.2},{"p":2,"y":1991,"m":"T319","v":-1.1},{"p":2,"y":1991,"m":"T319","v":-1.82},
{"p":2,"y":1991,"m":"T639","v":3.25},{"p":2,"y":1991,"m":"T639","v":2.6},{"p":2,"y":1991,"m":"T639","v":1.8},{"p":2,"y":1991,"m":"T639","v":1.0},{"p":2,"y":1991,"m":"T639","v":0.2},{"p":2,"y":1991,"m":"T639","v":-0.5},{"p":2,"y":1991,"m":"T639","v":-1.2},{"p":2,"y":1991,"m":"T639","v":-3.42},
{"p":2,"y":1992,"m":"T319","v":3.06},{"p":2,"y":1992,"m":"T319","v":2.6},{"p":2,"y":1992,"m":"T319","v":2.0},{"p":2,"y":1992,"m":"T319","v":1.4},{"p":2,"y":1992,"m":"T319","v":0.6},{"p":2,"y":1992,"m":"T319","v":-0.4},{"p":2,"y":1992,"m":"T319","v":-1.2},{"p":2,"y":1992,"m":"T319","v":-2.1},
{"p":2,"y":1992,"m":"T639","v":3.38},{"p":2,"y":1992,"m":"T639","v":2.8},{"p":2,"y":1992,"m":"T639","v":2.0},{"p":2,"y":1992,"m":"T639","v":1.2},{"p":2,"y":1992,"m":"T639","v":0.4},{"p":2,"y":1992,"m":"T639","v":-0.6},{"p":2,"y":1992,"m":"T639","v":-1.5},{"p":2,"y":1992,"m":"T639","v":-2.57},
{"p":2,"y":1993,"m":"T319","v":2.5},{"p":2,"y":1993,"m":"T319","v":1.5},{"p":2,"y":1993,"m":"T319","v":0.5},{"p":2,"y":1993,"m":"T319","v":-0.5},{"p":2,"y":1993,"m":"T319","v":-1.3},{"p":2,"y":1993,"m":"T319","v":-2.0},{"p":2,"y":1993,"m":"T319","v":-2.6},{"p":2,"y":1993,"m":"T319","v":-3.89},
{"p":2,"y":1993,"m":"T639","v":2.4},{"p":2,"y":1993,"m":"T639","v":1.6},{"p":2,"y":1993,"m":"T639","v":0.8},{"p":2,"y":1993,"m":"T639","v":0.0},{"p":2,"y":1993,"m":"T639","v":-0.8},{"p":2,"y":1993,"m":"T639","v":-1.6},{"p":2,"y":1993,"m":"T639","v":-2.2},{"p":2,"y":1993,"m":"T639","v":-2.85},
{"p":2,"y":1994,"m":"T319","v":2.5},{"p":2,"y":1994,"m":"T319","v":2.1},{"p":2,"y":1994,"m":"T319","v":1.6},{"p":2,"y":1994,"m":"T319","v":1.0},{"p":2,"y":1994,"m":"T319","v":0.5},{"p":2,"y":1994,"m":"T319","v":0.0},{"p":2,"y":1994,"m":"T319","v":-0.6},{"p":2,"y":1994,"m":"T319","v":-1.35},
{"p":2,"y":1994,"m":"T639","v":3.15},{"p":2,"y":1994,"m":"T639","v":2.6},{"p":2,"y":1994,"m":"T639","v":2.0},{"p":2,"y":1994,"m":"T639","v":1.4},{"p":2,"y":1994,"m":"T639","v":0.8},{"p":2,"y":1994,"m":"T639","v":0.2},{"p":2,"y":1994,"m":"T639","v":-0.5},{"p":2,"y":1994,"m":"T639","v":-1.35},
{"p":2,"y":1995,"m":"T319","v":2.78},{"p":2,"y":1995,"m":"T319","v":2.3},{"p":2,"y":1995,"m":"T319","v":1.7},{"p":2,"y":1995,"m":"T319","v":0.8},{"p":2,"y":1995,"m":"T319","v":0.0},{"p":2,"y":1995,"m":"T319","v":-0.8},{"p":2,"y":1995,"m":"T319","v":-1.5},{"p":2,"y":1995,"m":"T319","v":-2.38},
{"p":2,"y":1995,"m":"T639","v":2.78},{"p":2,"y":1995,"m":"T639","v":2.0},{"p":2,"y":1995,"m":"T639","v":1.0},{"p":2,"y":1995,"m":"T639","v":0.0},{"p":2,"y":1995,"m":"T639","v":-0.9},{"p":2,"y":1995,"m":"T639","v":-1.8},{"p":2,"y":1995,"m":"T639","v":-2.7},{"p":2,"y":1995,"m":"T639","v":-3.6},
{"p":2,"y":1996,"m":"T319","v":2.22},{"p":2,"y":1996,"m":"T319","v":1.8},{"p":2,"y":1996,"m":"T319","v":1.4},{"p":2,"y":1996,"m":"T319","v":0.9},{"p":2,"y":1996,"m":"T319","v":0.4},{"p":2,"y":1996,"m":"T319","v":-0.1},{"p":2,"y":1996,"m":"T319","v":-0.7},{"p":2,"y":1996,"m":"T319","v":-1.16},
{"p":2,"y":1996,"m":"T639","v":3.34},{"p":2,"y":1996,"m":"T639","v":2.5},{"p":2,"y":1996,"m":"T639","v":1.7},{"p":2,"y":1996,"m":"T639","v":0.8},{"p":2,"y":1996,"m":"T639","v":0.0},{"p":2,"y":1996,"m":"T639","v":-0.8},{"p":2,"y":1996,"m":"T639","v":-1.6},{"p":2,"y":1996,"m":"T639","v":-2.48},
{"p":2,"y":1997,"m":"T319","v":-0.13},{"p":2,"y":1997,"m":"T319","v":-1.0},{"p":2,"y":1997,"m":"T319","v":-1.8},{"p":2,"y":1997,"m":"T319","v":-2.4},{"p":2,"y":1997,"m":"T319","v":-3.0},{"p":2,"y":1997,"m":"T319","v":-3.8},{"p":2,"y":1997,"m":"T319","v":-4.6},{"p":2,"y":1997,"m":"T319","v":-5.45},
{"p":2,"y":1997,"m":"T639","v":0.71},{"p":2,"y":1997,"m":"T639","v":-0.5},{"p":2,"y":1997,"m":"T639","v":-1.3},{"p":2,"y":1997,"m":"T639","v":-2.0},{"p":2,"y":1997,"m":"T639","v":-2.7},{"p":2,"y":1997,"m":"T639","v":-3.3},{"p":2,"y":1997,"m":"T639","v":-3.9},{"p":2,"y":1997,"m":"T639","v":-4.54},
{"p":2,"y":1998,"m":"T319","v":-0.32},{"p":2,"y":1998,"m":"T319","v":-1.0},{"p":2,"y":1998,"m":"T319","v":-1.7},{"p":2,"y":1998,"m":"T319","v":-2.3},{"p":2,"y":1998,"m":"T319","v":-2.8},{"p":2,"y":1998,"m":"T319","v":-3.4},{"p":2,"y":1998,"m":"T319","v":-4.0},{"p":2,"y":1998,"m":"T319","v":-4.73},
{"p":2,"y":1998,"m":"T639","v":1.05},{"p":2,"y":1998,"m":"T639","v":0.0},{"p":2,"y":1998,"m":"T639","v":-1.0},{"p":2,"y":1998,"m":"T639","v":-1.8},{"p":2,"y":1998,"m":"T639","v":-2.6},{"p":2,"y":1998,"m":"T639","v":-3.3},{"p":2,"y":1998,"m":"T639","v":-4.2},{"p":2,"y":1998,"m":"T639","v":-5.1},
{"p":2,"y":1999,"m":"T319","v":3.38},{"p":2,"y":1999,"m":"T319","v":2.5},{"p":2,"y":1999,"m":"T319","v":1.5},{"p":2,"y":1999,"m":"T319","v":0.6},{"p":2,"y":1999,"m":"T319","v":-0.3},{"p":2,"y":1999,"m":"T319","v":-1.2},{"p":2,"y":1999,"m":"T319","v":-2.3},{"p":2,"y":1999,"m":"T319","v":-3.7},
{"p":2,"y":1999,"m":"T639","v":2.59},{"p":2,"y":1999,"m":"T639","v":1.6},{"p":2,"y":1999,"m":"T639","v":0.6},{"p":2,"y":1999,"m":"T639","v":-0.4},{"p":2,"y":1999,"m":"T639","v":-1.4},{"p":2,"y":1999,"m":"T639","v":-2.4},{"p":2,"y":1999,"m":"T639","v":-3.4},{"p":2,"y":1999,"m":"T639","v":-4.92},
{"p":2,"y":2000,"m":"T319","v":3.25},{"p":2,"y":2000,"m":"T319","v":2.6},{"p":2,"y":2000,"m":"T319","v":1.7},{"p":2,"y":2000,"m":"T319","v":0.8},{"p":2,"y":2000,"m":"T319","v":-0.2},{"p":2,"y":2000,"m":"T319","v":-1.0},{"p":2,"y":2000,"m":"T319","v":-2.0},{"p":2,"y":2000,"m":"T319","v":-3.32},
{"p":2,"y":2000,"m":"T639","v":2.97},{"p":2,"y":2000,"m":"T639","v":2.3},{"p":2,"y":2000,"m":"T639","v":1.5},{"p":2,"y":2000,"m":"T639","v":0.7},{"p":2,"y":2000,"m":"T639","v":0.0},{"p":2,"y":2000,"m":"T639","v":-0.7},{"p":2,"y":2000,"m":"T639","v":-1.4},{"p":2,"y":2000,"m":"T639","v":-2.1},
{"p":2,"y":2001,"m":"T319","v":3.62},{"p":2,"y":2001,"m":"T319","v":2.9},{"p":2,"y":2001,"m":"T319","v":2.1},{"p":2,"y":2001,"m":"T319","v":1.2},{"p":2,"y":2001,"m":"T319","v":0.4},{"p":2,"y":2001,"m":"T319","v":-0.4},{"p":2,"y":2001,"m":"T319","v":-1.2},{"p":2,"y":2001,"m":"T319","v":-1.92},
{"p":2,"y":2001,"m":"T639","v":4.09},{"p":2,"y":2001,"m":"T639","v":3.2},{"p":2,"y":2001,"m":"T639","v":2.4},{"p":2,"y":2001,"m":"T639","v":1.6},{"p":2,"y":2001,"m":"T639","v":0.8},{"p":2,"y":2001,"m":"T639","v":0.0},{"p":2,"y":2001,"m":"T639","v":-0.9},{"p":2,"y":2001,"m":"T639","v":-1.73},
{"p":2,"y":2002,"m":"T319","v":2.4},{"p":2,"y":2002,"m":"T319","v":1.4},{"p":2,"y":2002,"m":"T319","v":0.4},{"p":2,"y":2002,"m":"T319","v":-0.6},{"p":2,"y":2002,"m":"T319","v":-1.6},{"p":2,"y":2002,"m":"T319","v":-2.6},{"p":2,"y":2002,"m":"T319","v":-3.8},{"p":2,"y":2002,"m":"T319","v":-5.86},
{"p":2,"y":2002,"m":"T639","v":3.72},{"p":2,"y":2002,"m":"T639","v":2.8},{"p":2,"y":2002,"m":"T639","v":1.8},{"p":2,"y":2002,"m":"T639","v":0.8},{"p":2,"y":2002,"m":"T639","v":-0.2},{"p":2,"y":2002,"m":"T639","v":-1.2},{"p":2,"y":2002,"m":"T639","v":-2.2},{"p":2,"y":2002,"m":"T639","v":-3.23},
{"p":2,"y":2003,"m":"T319","v":2.78},{"p":2,"y":2003,"m":"T319","v":2.0},{"p":2,"y":2003,"m":"T319","v":1.2},{"p":2,"y":2003,"m":"T319","v":0.4},{"p":2,"y":2003,"m":"T319","v":-0.4},{"p":2,"y":2003,"m":"T319","v":-1.2},{"p":2,"y":2003,"m":"T319","v":-2.0},{"p":2,"y":2003,"m":"T319","v":-2.85},
{"p":2,"y":2003,"m":"T639","v":2.97},{"p":2,"y":2003,"m":"T639","v":2.2},{"p":2,"y":2003,"m":"T639","v":1.3},{"p":2,"y":2003,"m":"T639","v":0.4},{"p":2,"y":2003,"m":"T639","v":-0.6},{"p":2,"y":2003,"m":"T639","v":-1.6},{"p":2,"y":2003,"m":"T639","v":-2.6},{"p":2,"y":2003,"m":"T639","v":-3.7},
{"p":2,"y":2004,"m":"T319","v":3.25},{"p":2,"y":2004,"m":"T319","v":2.6},{"p":2,"y":2004,"m":"T319","v":2.0},{"p":2,"y":2004,"m":"T319","v":1.4},{"p":2,"y":2004,"m":"T319","v":0.7},{"p":2,"y":2004,"m":"T319","v":0.0},{"p":2,"y":2004,"m":"T319","v":-0.8},{"p":2,"y":2004,"m":"T319","v":-1.54},
{"p":2,"y":2004,"m":"T639","v":3.91},{"p":2,"y":2004,"m":"T639","v":3.2},{"p":2,"y":2004,"m":"T639","v":2.4},{"p":2,"y":2004,"m":"T639","v":1.6},{"p":2,"y":2004,"m":"T639","v":0.6},{"p":2,"y":2004,"m":"T639","v":-0.4},{"p":2,"y":2004,"m":"T639","v":-1.4},{"p":2,"y":2004,"m":"T639","v":-2.57},
{"p":2,"y":2005,"m":"T319","v":2.5},{"p":2,"y":2005,"m":"T319","v":1.8},{"p":2,"y":2005,"m":"T319","v":1.0},{"p":2,"y":2005,"m":"T319","v":0.2},{"p":2,"y":2005,"m":"T319","v":-0.6},{"p":2,"y":2005,"m":"T319","v":-1.4},{"p":2,"y":2005,"m":"T319","v":-2.3},{"p":2,"y":2005,"m":"T319","v":-3.23},
{"p":2,"y":2005,"m":"T639","v":3.81},{"p":2,"y":2005,"m":"T639","v":3.0},{"p":2,"y":2005,"m":"T639","v":2.0},{"p":2,"y":2005,"m":"T639","v":1.0},{"p":2,"y":2005,"m":"T639","v":0.0},{"p":2,"y":2005,"m":"T639","v":-1.0},{"p":2,"y":2005,"m":"T639","v":-2.0},{"p":2,"y":2005,"m":"T639","v":-2.85},
{"p":2,"y":2006,"m":"T319","v":1.46},{"p":2,"y":2006,"m":"T319","v":0.8},{"p":2,"y":2006,"m":"T319","v":0.2},{"p":2,"y":2006,"m":"T319","v":-0.4},{"p":2,"y":2006,"m":"T319","v":-1.0},{"p":2,"y":2006,"m":"T319","v":-1.6},{"p":2,"y":2006,"m":"T319","v":-2.2},{"p":2,"y":2006,"m":"T319","v":-2.95},
{"p":2,"y":2006,"m":"T639","v":2.93},{"p":2,"y":2006,"m":"T639","v":2.2},{"p":2,"y":2006,"m":"T639","v":1.4},{"p":2,"y":2006,"m":"T639","v":0.6},{"p":2,"y":2006,"m":"T639","v":-0.2},{"p":2,"y":2006,"m":"T639","v":-0.9},{"p":2,"y":2006,"m":"T639","v":-1.5},{"p":2,"y":2006,"m":"T639","v":-2.1},
{"p":2,"y":2007,"m":"T319","v":3.49},{"p":2,"y":2007,"m":"T319","v":2.8},{"p":2,"y":2007,"m":"T319","v":2.0},{"p":2,"y":2007,"m":"T319","v":1.2},{"p":2,"y":2007,"m":"T319","v":0.4},{"p":2,"y":2007,"m":"T319","v":-0.4},{"p":2,"y":2007,"m":"T319","v":-1.2},{"p":2,"y":2007,"m":"T319","v":-1.92},
{"p":2,"y":2007,"m":"T639","v":3.15},{"p":2,"y":2007,"m":"T639","v":2.2},{"p":2,"y":2007,"m":"T639","v":1.3},{"p":2,"y":2007,"m":"T639","v":0.4},{"p":2,"y":2007,"m":"T639","v":-0.5},{"p":2,"y":2007,"m":"T639","v":-1.3},{"p":2,"y":2007,"m":"T639","v":-2.1},{"p":2,"y":2007,"m":"T639","v":-3.46},
{"p":2,"y":2008,"m":"T319","v":2.69},{"p":2,"y":2008,"m":"T319","v":1.6},{"p":2,"y":2008,"m":"T319","v":0.6},{"p":2,"y":2008,"m":"T319","v":-0.4},{"p":2,"y":2008,"m":"T319","v":-1.3},{"p":2,"y":2008,"m":"T319","v":-2.2},{"p":2,"y":2008,"m":"T319","v":-3.2},{"p":2,"y":2008,"m":"T319","v":-4.45},
{"p":2,"y":2008,"m":"T639","v":3.44},{"p":2,"y":2008,"m":"T639","v":2.6},{"p":2,"y":2008,"m":"T639","v":1.6},{"p":2,"y":2008,"m":"T639","v":0.6},{"p":2,"y":2008,"m":"T639","v":-0.4},{"p":2,"y":2008,"m":"T639","v":-1.2},{"p":2,"y":2008,"m":"T639","v":-1.9},{"p":2,"y":2008,"m":"T639","v":-2.48},
{"p":2,"y":2009,"m":"T319","v":2.31},{"p":2,"y":2009,"m":"T319","v":1.9},{"p":2,"y":2009,"m":"T319","v":1.5},{"p":2,"y":2009,"m":"T319","v":1.0},{"p":2,"y":2009,"m":"T319","v":0.5},{"p":2,"y":2009,"m":"T319","v":-0.2},{"p":2,"y":2009,"m":"T319","v":-1.0},{"p":2,"y":2009,"m":"T319","v":-1.73},
{"p":2,"y":2009,"m":"T639","v":4.51},{"p":2,"y":2009,"m":"T639","v":3.2},{"p":2,"y":2009,"m":"T639","v":2.0},{"p":2,"y":2009,"m":"T639","v":1.0},{"p":2,"y":2009,"m":"T639","v":0.0},{"p":2,"y":2009,"m":"T639","v":-0.8},{"p":2,"y":2009,"m":"T639","v":-1.6},{"p":2,"y":2009,"m":"T639","v":-2.29},
{"p":2,"y":2010,"m":"T319","v":3.44},{"p":2,"y":2010,"m":"T319","v":2.7},{"p":2,"y":2010,"m":"T319","v":1.8},{"p":2,"y":2010,"m":"T319","v":0.8},{"p":2,"y":2010,"m":"T319","v":-0.2},{"p":2,"y":2010,"m":"T319","v":-1.2},{"p":2,"y":2010,"m":"T319","v":-2.2},{"p":2,"y":2010,"m":"T319","v":-3.89},
{"p":2,"y":2010,"m":"T639","v":2.97},{"p":2,"y":2010,"m":"T639","v":2.2},{"p":2,"y":2010,"m":"T639","v":1.2},{"p":2,"y":2010,"m":"T639","v":0.2},{"p":2,"y":2010,"m":"T639","v":-0.8},{"p":2,"y":2010,"m":"T639","v":-1.8},{"p":2,"y":2010,"m":"T639","v":-2.6},{"p":2,"y":2010,"m":"T639","v":-4.36}
]
},
"vconcat": [
{
  "width": 662, "height": 211,
  "title": {"text": "PC1 of VV₂₅₀ in North Hemisphere"},
  "resolve": {"axis": {"x": "independent", "y": "independent"}},
  "layer": [
    {"data": {"name": "dots"}, "transform": [{"filter": "datum.p == 1"}],
     "mark": {"type": "point", "filled": true, "size": 8, "opacity": 1},
     "encoding": {
       "x": {"field": "y", "type": "quantitative", "scale": {"domain": [1979, 2011], "nice": false, "zero": false}, "axis": {"orient": "bottom", "values": [1980,1985,1990,1995,2000,2005,2010], "format": "d", "title": null}},
       "y": {"field": "v", "type": "quantitative", "scale": {"domain": [-4, 4], "nice": false}, "axis": {"orient": "left", "values": [-4,-2,0,2,4], "title": null}},
       "color": {"field": "m", "type": "nominal", "scale": {"domain": ["T319","T639"], "range": ["#0000ff","#ff0000"]}, "legend": {"legendX": 283, "legendY": 164}}
     }},
    {"data": {"name": "lines"}, "transform": [{"filter": "datum.p == 1"}],
     "mark": {"type": "line", "strokeWidth": 3},
     "encoding": {
       "x": {"field": "y", "type": "quantitative", "axis": {"orient": "top", "values": [1980,1985,1990,1995,2000,2005,2010], "labels": false, "title": null}},
       "y": {"field": "l", "type": "quantitative", "axis": {"orient": "right", "values": [-4,-2,0,2,4], "labels": false, "title": null}},
       "color": {"field": "m", "type": "nominal", "legend": {"legendX": 283, "legendY": 164}}
     }},
    {"data": {"name": "lines"}, "transform": [{"filter": "datum.p == 1"}],
     "mark": {"type": "point", "shape": "M-1,-1L1,1M-1,1L1,-1", "filled": false, "strokeWidth": 3, "size": 196, "opacity": 1},
     "encoding": {
       "x": {"field": "y", "type": "quantitative", "axis": null},
       "y": {"field": "x", "type": "quantitative", "axis": null},
       "color": {"field": "m", "type": "nominal", "legend": {"legendX": 283, "legendY": 164}}
     }}
  ]
},
{
  "width": 662, "height": 213,
  "title": {"text": "PC2 of VV₂₅₀ in North Hemisphere"},
  "resolve": {"axis": {"x": "independent", "y": "independent"}},
  "layer": [
    {"data": {"name": "dots"}, "transform": [{"filter": "datum.p == 2"}],
     "mark": {"type": "point", "filled": true, "size": 8, "opacity": 1},
     "encoding": {
       "x": {"field": "y", "type": "quantitative", "scale": {"domain": [1979, 2011], "nice": false, "zero": false}, "axis": {"orient": "bottom", "values": [1980,1985,1990,1995,2000,2005,2010], "format": "d", "title": null, "labelPadding": 9}},
       "y": {"field": "v", "type": "quantitative", "scale": {"domain": [-6, 6], "nice": false}, "axis": {"orient": "left", "values": [-6,-4,-2,0,2,4,6], "title": null}},
       "color": {"field": "m", "type": "nominal", "scale": {"domain": ["T319","T639"], "range": ["#0000ff","#ff0000"]}, "legend": {"legendX": 283, "legendY": 8}}
     }},
    {"data": {"name": "lines"}, "transform": [{"filter": "datum.p == 2"}],
     "mark": {"type": "line", "strokeWidth": 3},
     "encoding": {
       "x": {"field": "y", "type": "quantitative", "axis": {"orient": "top", "values": [1980,1985,1990,1995,2000,2005,2010], "labels": false, "title": null}},
       "y": {"field": "l", "type": "quantitative", "axis": {"orient": "right", "values": [-6,-4,-2,0,2,4,6], "labels": false, "title": null}},
       "color": {"field": "m", "type": "nominal", "legend": {"legendX": 283, "legendY": 8}}
     }},
    {"data": {"name": "lines"}, "transform": [{"filter": "datum.p == 2"}],
     "mark": {"type": "point", "shape": "M-1,-1L1,1M-1,1L1,-1", "filled": false, "strokeWidth": 3, "size": 196, "opacity": 1},
     "encoding": {
       "x": {"field": "y", "type": "quantitative", "axis": null},
       "y": {"field": "x", "type": "quantitative", "axis": null},
       "color": {"field": "m", "type": "nominal", "legend": {"legendX": 283, "legendY": 8}}
     }}
  ]
}
]
}
